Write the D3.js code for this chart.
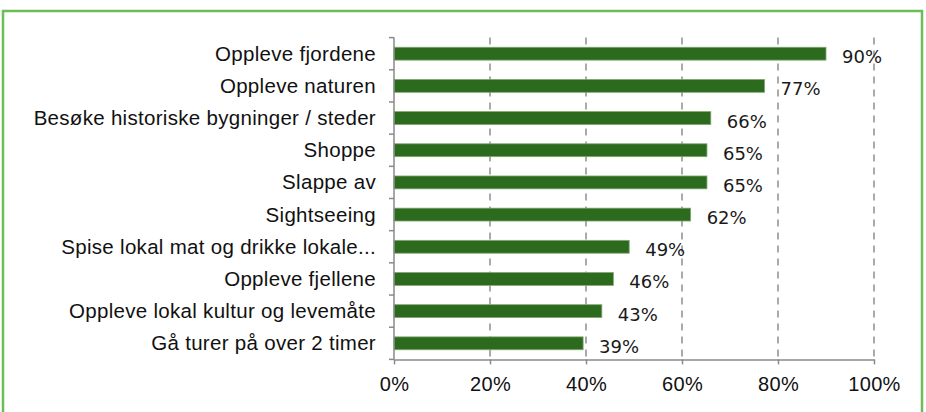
<!DOCTYPE html>
<html>
<head>
<meta charset="utf-8">
<script src="https://cdn.jsdelivr.net/npm/d3@7"></script>
<style>
  html, body { margin: 0; padding: 0; background: #fff; }
  svg { display: block; }
</style>
</head>
<body>
<svg id="chart" width="926" height="412"></svg>
<script>
const categories = [
  "Oppleve fjordene",
  "Oppleve naturen",
  "Besøke historiske bygninger / steder",
  "Shoppe",
  "Slappe av",
  "Sightseeing",
  "Spise lokal mat og drikke lokale...",
  "Oppleve fjellene",
  "Oppleve lokal kultur og levemåte",
  "Gå turer på over 2 timer"
];
const values = [90, 77.2, 66, 65.2, 65.2, 61.8, 49, 45.7, 43.3, 39.4];
const tickValues = [0, 20, 40, 60, 80, 100];

const svg = d3.select("#chart");
const W = 926, H = 412;
const margin = { left: 394, right: 52, top: 37.6, bottom: 52.6 };

// outer border
svg.append("rect")
  .attr("x", 3).attr("y", 11)
  .attr("width", 919).attr("height", 420)
  .attr("fill", "none")
  .attr("stroke", "#6dbd57")
  .attr("stroke-width", 2.5);

const x = d3.scaleLinear().domain([0, 100]).range([margin.left, W - margin.right]);
const y = d3.scaleBand().domain(categories)
  .range([margin.top, H - margin.bottom])
  .paddingInner(0.6).paddingOuter(0.3);

const axisColor = "#8a8a8a";

// gridlines
svg.append("g").selectAll("line")
  .data(tickValues.filter(d => d > 0))
  .join("line")
  .attr("x1", d => x(d)).attr("x2", d => x(d))
  .attr("y1", margin.top).attr("y2", H - margin.bottom)
  .attr("stroke", "#8f8f8f")
  .attr("stroke-width", 1.5)
  .attr("stroke-dasharray", "7,6");

// bars
svg.append("g").selectAll("rect")
  .data(values)
  .join("rect")
  .attr("x", x(0))
  .attr("y", (d, i) => y(categories[i]))
  .attr("width", d => x(d) - x(0))
  .attr("height", y.bandwidth())
  .attr("fill", "#2c6a1e")
  .attr("stroke", "#7fa872")
  .attr("stroke-width", 0.8);

// value labels
svg.append("g").selectAll("text")
  .data(values)
  .join("text")
  .attr("x", d => x(d) + 16)
  .attr("y", (d, i) => y(categories[i]) + y.bandwidth() / 2 + 9.5)
  .attr("font-family", "'DejaVu Sans', sans-serif")
  .attr("font-size", 18)
  .attr("fill", "#1a1a1a")
  .text(d => d3.format(".0f")(d) + "%");

// y axis
const yAxis = d3.axisLeft(y).tickSize(0).tickFormat(d => d);
const gy = svg.append("g").attr("transform", `translate(${x(0)},0)`).call(yAxis);
gy.select(".domain").attr("stroke", axisColor).attr("stroke-width", 1.5)
  .attr("d", `M0,${margin.top}V${H - margin.bottom}`);
gy.selectAll(".tick text")
  .attr("x", -18)
  .attr("dy", "0.34em")
  .attr("font-family", "'Liberation Sans', Arial, sans-serif")
  .attr("font-size", 20.5)
  .attr("letter-spacing", "0.3px")
  .attr("fill", "#111");
// y tick marks at band boundaries
const bounds = categories.map((c, i) => margin.top + i * y.step()).concat([H - margin.bottom]);
gy.append("g").selectAll("line")
  .data(bounds)
  .join("line")
  .attr("x1", -5).attr("x2", 0)
  .attr("y1", d => d).attr("y2", d => d)
  .attr("stroke", axisColor).attr("stroke-width", 1.5);

// x axis
const xAxis = d3.axisBottom(x).tickValues(tickValues).tickSize(5).tickSizeOuter(0)
  .tickFormat(d => d + "%");
const gx = svg.append("g").attr("transform", `translate(0,${H - margin.bottom})`).call(xAxis);
gx.select(".domain").attr("stroke", axisColor).attr("stroke-width", 1.5);
gx.selectAll(".tick line").attr("stroke", axisColor).attr("stroke-width", 1.5);
gx.selectAll(".tick text")
  .attr("y", 17)
  .attr("dy", "0.71em")
  .attr("font-family", "'Liberation Sans', Arial, sans-serif")
  .attr("font-size", 20)
  .attr("letter-spacing", "0.3px")
  .attr("fill", "#111");
</script>
</body>
</html>
